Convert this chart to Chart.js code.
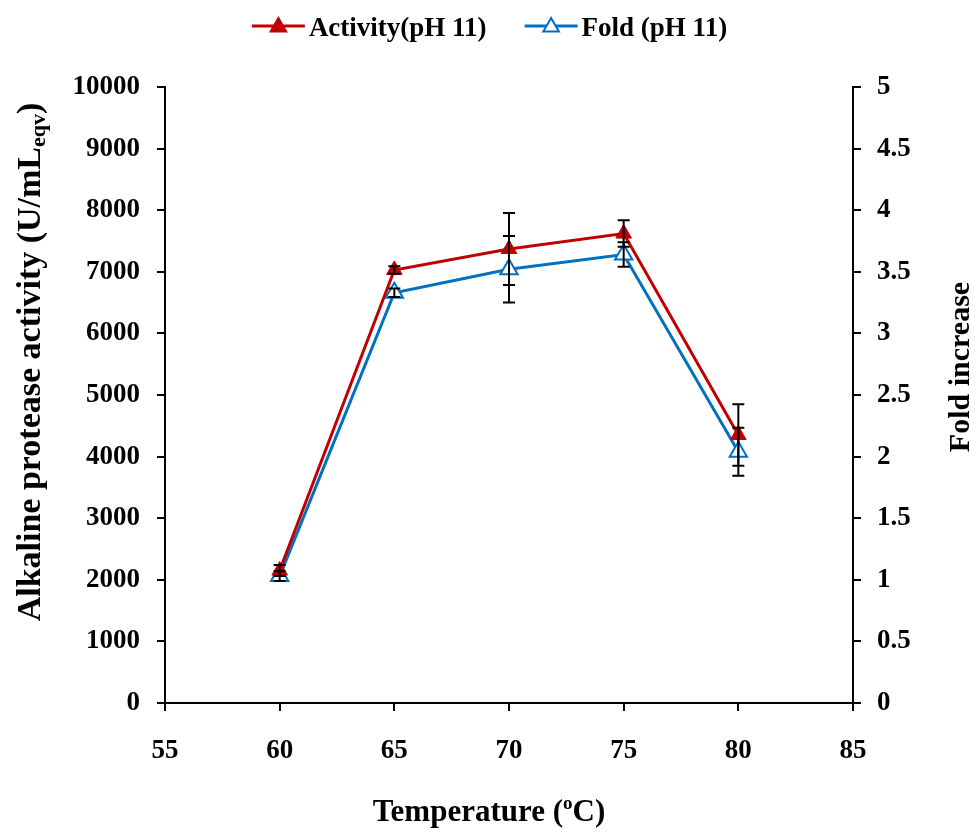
<!DOCTYPE html>
<html>
<head>
<meta charset="utf-8">
<title>Alkaline protease activity vs temperature</title>
<script src="https://cdn.jsdelivr.net/npm/chart.js@4.4.1/dist/chart.umd.min.js"></script>
<style>
  html, body { margin: 0; padding: 0; background: #fff; }
  #wrap { width: 979px; height: 833px; }
</style>
</head>
<body>
<div id="wrap"><canvas id="chart" width="979" height="833"></canvas></div>
<script>
// data
const temperatures = [60, 65, 70, 75, 80];
const activity = [2150, 7030, 7370, 7620, 4350];
const activityErr = [90, 60, 585, 215, 500];
const fold = [1.03, 3.33, 3.52, 3.64, 2.04];
const foldErr = [0.04, 0.035, 0.27, 0.10, 0.195];

const tempTicks = [55, 60, 65, 70, 75, 80, 85];
const activityTicks = [0, 1000, 2000, 3000, 4000, 5000, 6000, 7000, 8000, 9000, 10000];
const foldTicks = [0, 0.5, 1, 1.5, 2, 2.5, 3, 3.5, 4, 4.5, 5];

const RED = '#C00000';
const BLUE = '#0070C0';
const SERIF = "'Liberation Serif', 'Times New Roman', serif";

function useTicks(list) {
  return function(scale) {
    scale.ticks = list.map(v => ({ value: v }));
  };
}

// vertical error bars, drawn over the markers like Excel does
const errorBars = {
  id: 'errorBars',
  afterDatasetsDraw(chart) {
    const ctx = chart.ctx;
    const xScale = chart.scales.x;
    ctx.save();
    ctx.strokeStyle = '#000';
    ctx.lineWidth = 2;
    chart.data.datasets.forEach(ds => {
      if (!ds.errors) return;
      const yScale = chart.scales[ds.yAxisID];
      ds.data.forEach((p, j) => {
        const x = xScale.getPixelForValue(p.x);
        const top = yScale.getPixelForValue(p.y + ds.errors[j]);
        const bot = yScale.getPixelForValue(p.y - ds.errors[j]);
        ctx.beginPath();
        ctx.moveTo(x, top); ctx.lineTo(x, bot);
        ctx.moveTo(x - 6, top); ctx.lineTo(x + 6, top);
        ctx.moveTo(x - 6, bot); ctx.lineTo(x + 6, bot);
        ctx.stroke();
      });
    });
    ctx.restore();
  }
};

function triangle(ctx, x, y, r) {
  ctx.beginPath();
  ctx.moveTo(x, y - r);
  ctx.lineTo(x + r * Math.sin(2 * Math.PI / 3), y + r / 2);
  ctx.lineTo(x - r * Math.sin(2 * Math.PI / 3), y + r / 2);
  ctx.closePath();
}

// legend line+marker samples and axis titles (sub/superscripts)
const decorations = {
  id: 'decorations',
  afterDraw(chart) {
    const ctx = chart.ctx;
    ctx.save();
    ctx.fillStyle = '#000';
    ctx.textBaseline = 'middle';

    // legend
    ctx.font = 'bold 27px ' + SERIF;
    const items = chart.data.datasets;
    const lineLen = 53, gapText = 4, gapItem = 38;
    const widths = items.map(ds => ctx.measureText(ds.label).width);
    let total = 0;
    widths.forEach((w, i) => { total += lineLen + gapText + w + (i ? gapItem : 0); });
    let x = (chart.width - total) / 2;
    const ly = 26;
    items.forEach((ds, i) => {
      ctx.strokeStyle = ds.borderColor;
      ctx.lineWidth = 3;
      ctx.beginPath();
      ctx.moveTo(x, ly); ctx.lineTo(x + lineLen, ly);
      ctx.stroke();
      triangle(ctx, x + lineLen / 2, ly + 1, 9);
      ctx.fillStyle = ds.pointBackgroundColor;
      ctx.fill();
      ctx.lineWidth = 2;
      ctx.strokeStyle = ds.pointBorderColor;
      ctx.stroke();
      ctx.fillStyle = '#000';
      ctx.textAlign = 'left';
      ctx.fillText(ds.label, x + lineLen + gapText, ly + 3);
      x += lineLen + gapText + widths[i] + gapItem;
    });

    // x title: Temperature (oC) with superscript o
    const big = 'bold 31px ' + SERIF;
    const small = 'bold 19px ' + SERIF;
    drawParts(ctx, [['Temperature (', big, 0], ['o', small, -9], ['C)', big, 0]], 489, 813);

    // left title with subscript eqv
    ctx.save();
    ctx.translate(31, 362);
    ctx.rotate(-Math.PI / 2);
    const yBig = 'bold 34px ' + SERIF;
    const ySmall = 'bold 22px ' + SERIF;
    drawParts(ctx, [['Alkaline protease activity (U/mL', yBig, 0], ['eqv', ySmall, 8], [')', yBig, 0]], 0, 0);
    ctx.restore();

    // right title
    ctx.save();
    ctx.translate(961, 367);
    ctx.rotate(-Math.PI / 2);
    ctx.font = 'bold 30px ' + SERIF;
    ctx.textAlign = 'center';
    ctx.fillText('Fold increase', 0, 0);
    ctx.restore();

    ctx.restore();
  }
};

function drawParts(ctx, parts, cx, cy) {
  let w = 0;
  parts.forEach(p => { ctx.font = p[1]; w += ctx.measureText(p[0]).width; });
  let x = cx - w / 2;
  ctx.textAlign = 'left';
  parts.forEach(p => {
    ctx.font = p[1];
    ctx.fillText(p[0], x, cy + p[2]);
    x += ctx.measureText(p[0]).width;
  });
}

const axisGrid = {
  display: true,
  drawOnChartArea: false,
  drawTicks: true,
  tickLength: 8,
  color: '#000',
  lineWidth: 2
};
const axisBorder = { display: true, color: '#000', width: 2 };

new Chart(document.getElementById('chart'), {
  type: 'line',
  data: {
    datasets: [{
      label: 'Activity(pH 11)',
      data: temperatures.map((t, i) => ({ x: t, y: activity[i] })),
      errors: activityErr,
      yAxisID: 'y',
      borderColor: RED,
      borderWidth: 3,
      pointStyle: 'triangle',
      pointRadius: 9,
      pointBackgroundColor: RED,
      pointBorderColor: RED,
      pointBorderWidth: 1,
      tension: 0
    }, {
      label: 'Fold (pH 11)',
      data: temperatures.map((t, i) => ({ x: t, y: fold[i] })),
      errors: foldErr,
      yAxisID: 'y2',
      borderColor: BLUE,
      borderWidth: 3,
      pointStyle: 'triangle',
      pointRadius: 10,
      pointBackgroundColor: '#fff',
      pointBorderColor: BLUE,
      pointBorderWidth: 2,
      tension: 0
    }]
  },
  options: {
    responsive: false,
    animation: false,
    layout: { padding: { top: 87, left: 0, right: 0, bottom: 0 } },
    plugins: {
      legend: { display: false },
      tooltip: { enabled: false }
    },
    scales: {
      x: {
        type: 'linear',
        min: 55,
        max: 85,
        afterBuildTicks: useTicks(tempTicks),
        afterFit: s => { s.height = 130; },
        grid: axisGrid,
        border: axisBorder,
        ticks: {
          color: '#000',
          padding: 24,
          maxRotation: 0,
          font: { family: SERIF, size: 27, weight: 'bold' },
          callback: v => String(v)
        }
      },
      y: {
        position: 'left',
        min: 0,
        max: 10000,
        afterBuildTicks: useTicks(activityTicks),
        afterFit: s => { s.width = 165; },
        grid: axisGrid,
        border: axisBorder,
        ticks: {
          color: '#000',
          padding: 17,
          font: { family: SERIF, size: 27, weight: 'bold' },
          callback: v => String(v)
        }
      },
      y2: {
        position: 'right',
        min: 0,
        max: 5,
        afterBuildTicks: useTicks(foldTicks),
        afterFit: s => { s.width = 126; },
        grid: axisGrid,
        border: axisBorder,
        ticks: {
          color: '#000',
          padding: 16,
          font: { family: SERIF, size: 27, weight: 'bold' },
          callback: v => String(v)
        }
      }
    }
  },
  plugins: [errorBars, decorations]
});
</script>
</body>
</html>
